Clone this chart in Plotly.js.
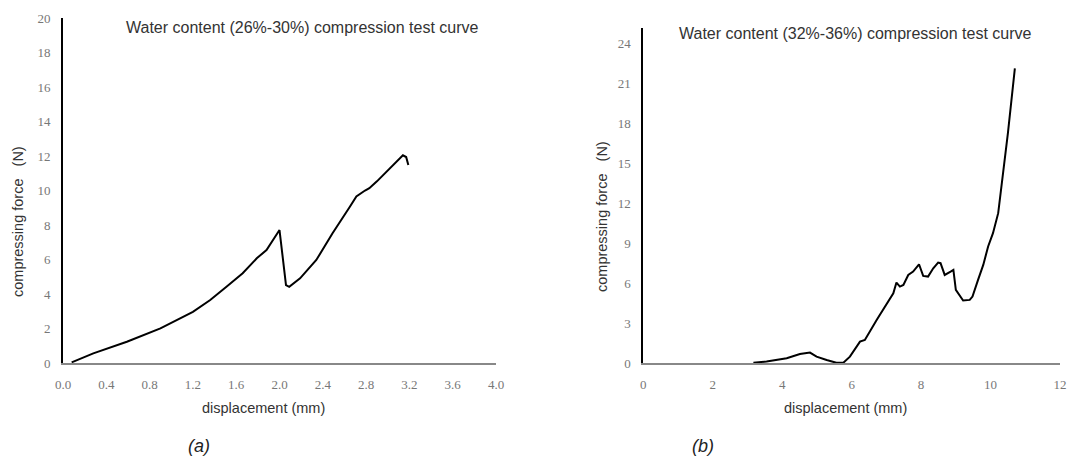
<!DOCTYPE html>
<html>
<head>
<meta charset="utf-8">
<script src="https://cdn.plot.ly/plotly-3.0.1.min.js"></script>
<style>html,body{margin:0;padding:0;background:#fff;}#chart{width:1069px;height:456px;}</style>
</head>
<body>
<div id="chart"></div>
<script>
// Panel (a): water content 26%-30%
var leftDisp  = [0.08,0.28,0.59,0.9,1.2,1.36,1.51,1.66,1.79,1.88,2.0,2.06,2.09,2.19,2.34,2.49,2.65,2.71,2.79,2.83,2.9,2.99,3.08,3.14,3.17,3.19];
var leftForce = [0.04,0.56,1.23,2.01,2.97,3.65,4.42,5.2,6.07,6.55,7.71,4.52,4.42,4.91,5.97,7.52,9.06,9.66,10.0,10.13,10.53,11.11,11.69,12.04,11.94,11.48];
// Panel (b): water content 32%-36%
var rightDisp  = [3.17,3.55,4.13,4.51,4.8,4.99,5.28,5.56,5.76,5.95,6.24,6.38,6.72,7.2,7.29,7.39,7.49,7.63,7.77,7.94,8.06,8.2,8.35,8.49,8.56,8.68,8.85,8.93,9.0,9.21,9.4,9.48,9.64,9.79,9.93,10.07,10.22,10.36,10.5,10.7];
var rightForce = [0.05,0.13,0.38,0.7,0.8,0.5,0.25,0.05,0.05,0.5,1.62,1.75,3.25,5.25,6.05,5.75,5.87,6.62,6.87,7.42,6.55,6.5,7.12,7.55,7.5,6.62,6.87,7.0,5.5,4.7,4.75,5.0,6.25,7.37,8.75,9.75,11.25,14.25,17.25,22.1];

var leftXTicks = [0,0.4,0.8,1.2,1.6,2.0,2.4,2.8,3.2,3.6,4.0];
var leftXText  = ["0.0","0.4","0.8","1.2","1.6","2.0","2.4","2.8","3.2","3.6","4.0"];
var leftYTicks = [0,2,4,6,8,10,12,14,16,18,20];
var rightXTicks = [0,2,4,6,8,10,12];
var rightYTicks = [0,3,6,9,12,15,18,21,24];

var titleA = "Water content (26%-30%) compression test curve";
var titleB = "Water content (32%-36%) compression test curve";
var yTitle = "compressing force\u00a0\u00a0\u00a0(N)";
var xTitle = "displacement (mm)";

var W = 1069, H = 456;
function px(x){return x/W;}
function py(y){return 1 - y/H;}

var tickFont = {family:"Liberation Serif, DejaVu Serif, serif", size:13, color:"#777"};
var sans = "Liberation Sans, Arial, sans-serif";

var traces = [
  {x:leftDisp, y:leftForce, type:"scatter", mode:"lines", line:{color:"#000", width:2}, xaxis:"x", yaxis:"y"},
  {x:rightDisp, y:rightForce, type:"scatter", mode:"lines", line:{color:"#000", width:2}, xaxis:"x2", yaxis:"y2"}
];

function xAx(dom, range, vals, text){
  var a = {domain:dom, range:range, tickmode:"array", tickvals:vals, showgrid:false, zeroline:false,
    showline:true, linecolor:"#888", linewidth:2, ticks:"", tickfont:tickFont, ticklabelstandoff:8, fixedrange:true};
  if(text) a.ticktext = text;
  return a;
}
function yAx(dom, range, vals, anchor){
  return {domain:dom, range:range, tickmode:"array", tickvals:vals, showgrid:false, zeroline:false,
    showline:true, linecolor:"#000", linewidth:2, ticks:"", tickfont:tickFont, ticklabelstandoff:8, anchor:anchor, fixedrange:true};
}
function ann(text, x, y, size, color, angle){
  var a = {text:text, x:px(x), y:py(y), xref:"paper", yref:"paper", xanchor:"center", yanchor:"middle",
    showarrow:false, font:{family:sans, size:size, color:color}};
  if(angle) a.textangle = angle;
  return a;
}

var layout = {
  width:W, height:H, margin:{l:0,r:0,t:0,b:0}, paper_bgcolor:"#fff", plot_bgcolor:"#fff", showlegend:false,
  xaxis: xAx([px(63), px(496)], [0,4], leftXTicks, leftXText),
  yaxis: yAx([py(363), py(18)], [0,20], leftYTicks, "x"),
  xaxis2: Object.assign(xAx([px(643.3), px(1060)], [0,12], rightXTicks), {anchor:"y2"}),
  yaxis2: yAx([py(363.3), py(28.3)], [0,25.1], rightYTicks, "x2"),
  annotations:[
    ann(titleA, 302, 28, 16, "#333"),
    ann(titleB, 855, 33, 16, "#333"),
    ann(yTitle, 18, 222, 14.5, "#333", -90),
    ann(yTitle, 602, 217, 14.5, "#333", -90),
    ann(xTitle, 263, 408, 14.5, "#333"),
    ann(xTitle, 845, 408, 14.5, "#333"),
    ann("<i>(a)</i>", 199, 446, 18, "#222"),
    ann("<i>(b)</i>", 703, 446, 18, "#222")
  ]
};

Plotly.newPlot("chart", traces, layout, {displayModeBar:false, staticPlot:true});
</script>
</body>
</html>
